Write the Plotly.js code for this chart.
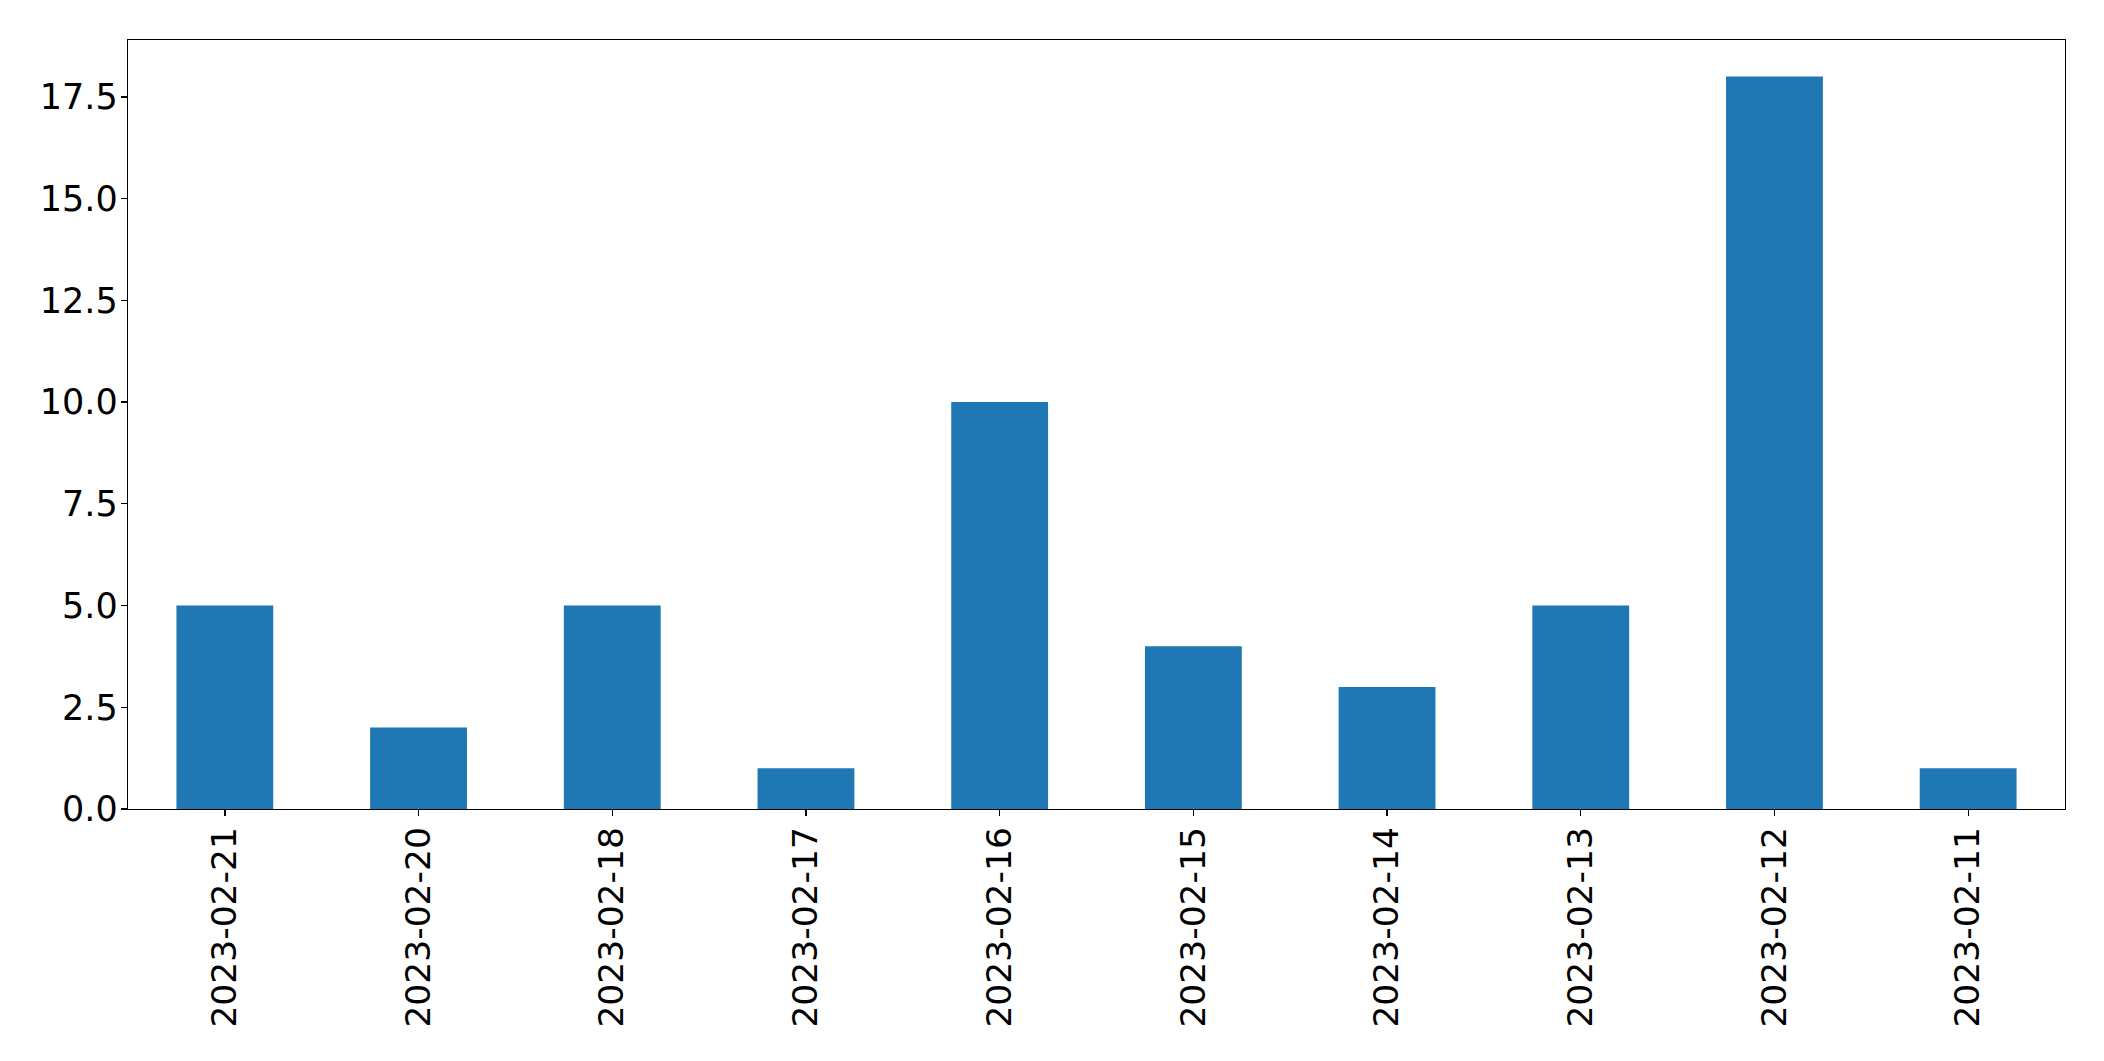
<!DOCTYPE html>
<html>
<head>
<meta charset="utf-8">
<script src="https://cdn.plot.ly/plotly-3.0.1.min.js"></script>
<style>html,body{margin:0;padding:0;background:#fff;}#chart{width:2104px;height:1061px;}</style>
</head>
<body>
<div id="chart"></div>
<script>
const categories = ["2023-02-21","2023-02-20","2023-02-18","2023-02-17","2023-02-16","2023-02-15","2023-02-14","2023-02-13","2023-02-12","2023-02-11"];
const counts = [5, 2, 5, 1, 10, 4, 3, 5, 18, 1];
const yTicks = [0, 2.5, 5, 7.5, 10, 12.5, 15, 17.5];

const trace = {
  type: 'bar',
  x: categories,
  y: counts,
  width: 0.5,
  marker: {color: '#1f77b4', line: {width: 0}},
  hoverinfo: 'x+y'
};

const layout = {
  width: 2104, height: 1061,
  margin: {l: 128, r: 39, t: 40, b: 252, pad: 0},
  paper_bgcolor: '#fff', plot_bgcolor: '#fff',
  font: {family: 'DejaVu Sans', size: 35, color: '#000'},
  showlegend: false,
  bargap: 0.5,
  xaxis: {
    type: 'category',
    range: [-0.5, 9.5],
    tickangle: -90,
    ticks: 'outside', ticklen: 6, tickwidth: 1.3, tickcolor: '#000',
    showline: true, linecolor: '#000', linewidth: 1.3, mirror: true,
    showgrid: false, zeroline: false,
    ticklabelstandoff: -3,
    tickfont: {family: 'DejaVu Sans', size: 34.5, color: '#000'}
  },
  yaxis: {
    range: [0, 18.9],
    tickvals: yTicks,
    tickformat: '.1f',
    ticks: 'outside', ticklen: 6, tickwidth: 1.3, tickcolor: '#000',
    showline: true, linecolor: '#000', linewidth: 1.3, mirror: true,
    showgrid: false, zeroline: false,
    ticklabelstandoff: -4,
    tickfont: {family: 'DejaVu Sans', size: 35, color: '#000'}
  }
};

Plotly.newPlot('chart', [trace], layout, {displayModeBar: false, staticPlot: true});
</script>
</body>
</html>
